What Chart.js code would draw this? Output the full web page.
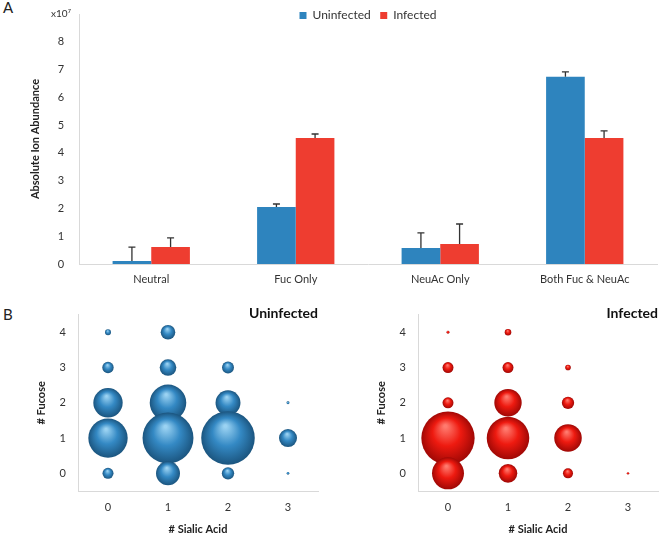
<!DOCTYPE html>
<html>
<head>
<meta charset="utf-8">
<script src="https://cdn.jsdelivr.net/npm/chart.js@4.4.1/dist/chart.umd.min.js"></script>
<style>
  body { margin: 0; background: #fff; width: 660px; height: 538px; position: relative; overflow: hidden; font-family: Lato, sans-serif; }
  canvas { position: absolute; }
  .panel { position: absolute; font-size: 15px; color: #222; line-height: 18px; }
</style>
</head>
<body>
<div class="panel" style="left:3px;top:-2px">A</div>
<div class="panel" style="left:3px;top:305px">B</div>
<canvas id="bars" width="660" height="290" style="left:0;top:0"></canvas>
<canvas id="bubUninf" width="330" height="242" style="left:0;top:296px"></canvas>
<canvas id="bubInf" width="330" height="242" style="left:330px;top:296px"></canvas>
<script>
// ---- panel A : absolute ion abundance (x10^7) ----
const categories = ['Neutral', 'Fuc Only', 'NeuAc Only', 'Both Fuc & NeuAc'];
const uninfected = [0.11, 2.05, 0.58, 6.74];
const uninfectedErr = [0.50, 0.11, 0.54, 0.18];
const infected = [0.61, 4.54, 0.72, 4.54];
const infectedErr = [0.33, 0.14, 0.72, 0.25];

// ---- panel B : relative abundance, rows = # fucose 0..4, cols = # sialic acid 0..3 ----
const sialicTicks = [0, 1, 2, 3];
const fucoseTicks = [0, 1, 2, 3, 4];
const uninfectedGrid = [
  [4.2, 20.0, 5.3, 0.24],
  [53.9, 90.3, 99.8, 11.3],
  [30.0, 46.5, 21.7, 0.3],
  [4.5, 9.6, 5.0, 0],
  [1.25, 7.4, 0, 0]
];
const infectedGrid = [
  [35.6, 12.0, 3.5, 0.2],
  [99.0, 63.0, 26.4, 0],
  [4.2, 26.1, 5.3, 0],
  [4.2, 4.2, 1.1, 0],
  [0.3, 1.5, 0, 0]
];

const BLUE = '#2E84BE';
const RED = '#EE3D30';
const AXIS = '#d9d9d9';
Chart.defaults.font.family = 'Lato, "Liberation Sans", sans-serif';
Chart.defaults.color = '#404040';

// error bars (only the + side, with a cap)
const errorBars = {
  id: 'errorBars',
  afterDatasetsDraw(chart) {
    const ctx = chart.ctx;
    const yScale = chart.scales.y;
    chart.data.datasets.forEach((ds, i) => {
      chart.getDatasetMeta(i).data.forEach((bar, j) => {
        const top = yScale.getPixelForValue(ds.data[j] + ds.errorPlus[j]);
        ctx.save();
        ctx.strokeStyle = '#333';
        ctx.lineWidth = 1.3;
        ctx.beginPath();
        ctx.moveTo(bar.x, bar.y);
        ctx.lineTo(bar.x, top);
        ctx.moveTo(bar.x - 3.5, top);
        ctx.lineTo(bar.x + 3.5, top);
        ctx.stroke();
        ctx.restore();
      });
    });
  }
};

// legend box is kept short (maxHeight) so the plot starts at the top,
// then it is grown again after layout so the labels are not clipped
const growLegend = {
  id: 'growLegend',
  afterLayout(chart) {
    chart.legend.bottom += 16;
    chart.legend.height += 16;
  }
};

new Chart(document.getElementById('bars'), {
  type: 'bar',
  data: {
    labels: categories,
    datasets: [
      { label: 'Uninfected', data: uninfected, errorPlus: uninfectedErr, backgroundColor: BLUE,
        categoryPercentage: 0.535, barPercentage: 1 },
      { label: 'Infected', data: infected, errorPlus: infectedErr, backgroundColor: RED,
        categoryPercentage: 0.535, barPercentage: 1 }
    ]
  },
  options: {
    responsive: false,
    animation: false,
    events: [],
    layout: { padding: { left: 0, right: 3, top: 0, bottom: 0 } },
    plugins: {
      legend: {
        position: 'top', align: 'center', fullSize: false, maxHeight: 14,
        labels: { boxWidth: 7, boxHeight: 7, padding: 9.5, color: '#333', font: { size: 12 } }
      },
      tooltip: { enabled: false }
    },
    scales: {
      x: {
        grid: { display: false, drawTicks: false },
        border: { color: AXIS },
        ticks: { padding: 9, color: '#333', font: { size: 11 } },
        afterFit: s => { s.height = 26; }
      },
      y: {
        min: 0, max: 9,
        grid: { display: false, drawTicks: false },
        border: { color: AXIS },
        ticks: {
          stepSize: 1, padding: 8, crossAlign: 'center', color: '#333',
          callback: v => v === 9 ? 'x10⁷' : v,
          font: c => ({ size: c.tick && c.tick.value === 9 ? 10 : 11 })
        },
        title: { display: true, text: 'Absolute Ion Abundance', color: '#222',
                 font: { size: 11, weight: 'bold' }, padding: { top: 29, bottom: 0 } },
        afterFit: s => { s.width = 79; }
      }
    }
  },
  plugins: [errorBars, growLegend]
});

// ---- bubble panels ----
function bubblePoints(grid) {
  const pts = [];
  for (let f = fucoseTicks.length - 1; f >= 0; f--) {
    sialicTicks.forEach((s, k) => {
      const v = grid[f][k];
      if (v > 0) pts.push({ x: s, y: fucoseTicks[f], r: 2.68 * Math.sqrt(v) });
    });
  }
  return pts;
}

function sphere(base, light, dark) {
  return c => {
    const raw = c.raw;
    const chart = c.chart;
    if (!raw || !chart.chartArea) return base;
    const x = chart.scales.x.getPixelForValue(raw.x);
    const y = chart.scales.y.getPixelForValue(raw.y);
    const r = raw.r;
    const g = chart.ctx.createRadialGradient(x - r * 0.1, y - r * 0.45, r * 0.05, x, y, r);
    g.addColorStop(0, light);
    g.addColorStop(0.5, base);
    g.addColorStop(1, dark);
    return g;
  };
}

function bubbleChart(id, title, grid, colors, yWidth, padRight, yTitlePad) {
  return new Chart(document.getElementById(id), {
    type: 'bubble',
    data: {
      datasets: [{
        label: title,
        data: bubblePoints(grid),
        backgroundColor: sphere(colors[0], colors[1], colors[2]),
        borderWidth: 0,
        clip: false
      }]
    },
    options: {
      responsive: false,
      animation: false,
      events: [],
      layout: { autoPadding: false, padding: { left: 0, right: padRight, top: 0, bottom: 0 } },
      plugins: {
        legend: { display: false },
        tooltip: { enabled: false },
        title: { display: true, text: title, align: 'end', color: '#111',
                 font: { size: 14, weight: 'bold' }, padding: { top: 7, bottom: -7 } }
      },
      scales: {
        x: {
          type: 'linear', min: -0.5, max: 3.5,
          grid: { display: false, drawTicks: false },
          border: { color: AXIS },
          ticks: { padding: 10, color: '#333', font: { size: 11 } },
          afterBuildTicks: s => { s.ticks = sialicTicks.map(v => ({ value: v })); },
          title: { display: true, text: '# Sialic Acid', color: '#222',
                   font: { size: 11, weight: 'bold' }, padding: { top: 0, bottom: 2 } },
          afterFit: s => { s.height = 47; }
        },
        y: {
          type: 'linear', min: -0.5, max: 4.5,
          grid: { display: false, drawTicks: false },
          border: { color: AXIS },
          ticks: { padding: 12, color: '#333', font: { size: 11 } },
          afterBuildTicks: s => { s.ticks = fucoseTicks.map(v => ({ value: v })); },
          title: { display: true, text: '# Fucose', color: '#222',
                   font: { size: 11, weight: 'bold' }, padding: { top: yTitlePad, bottom: 0 } },
          afterFit: s => { s.width = yWidth; }
        }
      }
    }
  });
}

bubbleChart('bubUninf', 'Uninfected', uninfectedGrid, ['#3489C4', '#9AD2F2', '#1B557F'], 78, 12, 35);
bubbleChart('bubInf', 'Infected', infectedGrid, ['#EE1A10', '#FF7A6E', '#A00805'], 88, 2, 45);
</script>
</body>
</html>
